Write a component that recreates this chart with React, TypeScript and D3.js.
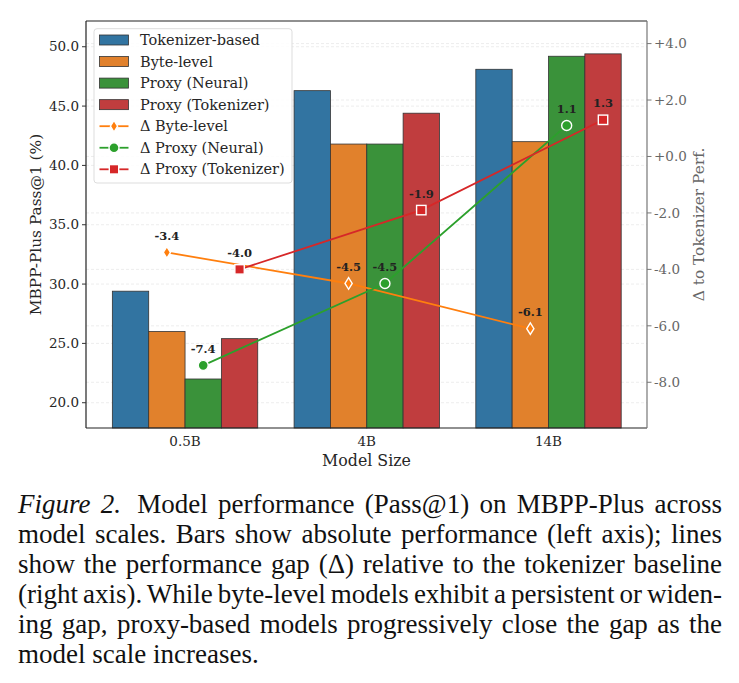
import React, { useEffect, useRef } from "react";
import * as d3 from "d3";

const categories = ["0.5B", "4B", "14B"];
const tokenizerBased = [29.4, 46.3, 48.1];
const byteLevel = [26.0, 41.8, 42.0];
const proxyNeural = [22.0, 41.8, 49.2];
const proxyTokenizer = [25.4, 44.4, 49.4];
const deltaByte = [-3.4, -4.5, -6.1];
const deltaNeural = [-7.4, -4.5, 1.1];
const deltaProxyTok = [-4.0, -1.9, 1.3];
const leftTicks = [20, 25, 30, 35, 40, 45, 50];
const rightTicks = [-8, -6, -4, -2, 0, 2, 4];
const barNames = ["Tokenizer-based", "Byte-level", "Proxy (Neural)", "Proxy (Tokenizer)"];
const lineNames = ["Δ Byte-level", "Δ Proxy (Neural)", "Δ Proxy (Tokenizer)"];
const captionLines = [
  "Model performance (Pass@1) on MBPP-Plus across",
  "model scales. Bars show absolute performance (left axis); lines",
  "show the performance gap (Δ) relative to the tokenizer baseline",
  "(right axis). While byte-level models exhibit a persistent or widen-",
  "ing gap, proxy-based models progressively close the gap as the",
  "model scale increases.",
];

const barColors = ["#3274a1", "#e1812c", "#3a923a", "#c03d3e"];
const lineColors = ["#ff7f0e", "#2ca02c", "#d62728"];
const markerTypes = ["d", "o", "s"];

const W = 739, H = 683;
const L = 86, R = 647, T = 21, B = 428;
const SERIF = "'DejaVu Serif', serif";

function Marker({ type, x, y, color }: { type: string; x: number; y: number; color: string }) {
  if (type === "d") {
    const h = 5.8, w = 3.6;
    return <path d={`M${x},${y - h}L${x + w},${y}L${x},${y + h}L${x - w},${y}Z`} fill={color} stroke="#fff" strokeWidth={1.4} />;
  }
  if (type === "o") return <circle cx={x} cy={y} r={5} fill={color} stroke="#fff" strokeWidth={1.4} />;
  const s = 4.7;
  return <rect x={x - s} y={y - s} width={2 * s} height={2 * s} fill={color} stroke="#fff" strokeWidth={1.4} />;
}

export default function App() {
  const capRefs = useRef<(SVGTextElement | null)[]>([]);
  useEffect(() => {
    document.body.style.margin = "0";
    const x0 = 18, x1 = 722;
    capRefs.current.forEach((el, i) => {
      if (!el || i === captionLines.length - 1) return;
      el.setAttribute("word-spacing", "0");
      const natural = el.getComputedTextLength();
      const txt = el.textContent || "";
      const spaces = (txt.match(/ /g) || []).length;
      const extra = (x1 - x0 - natural - (i === 0 ? 6 : 0)) / spaces;
      el.setAttribute("word-spacing", String(extra));
    });
  }, []);

  const x = d3.scaleLinear().domain([-0.545, 2.542]).range([L, R]);
  const yL = d3.scaleLinear().domain([17.87, 52.17]).range([B, T]);
  const yR = d3.scaleLinear().domain([-9.62, 4.8]).range([B, T]);
  const bw = 0.2;
  const series = [tokenizerBased, byteLevel, proxyNeural, proxyTokenizer];
  const deltas = [deltaByte, deltaNeural, deltaProxyTok];
  const off = (j: number) => (j - 1.5) * bw;

  const fmtR = (v: number) => (v >= 0 ? "+" : "") + v.toFixed(1);

  return (
    <svg width={W} height={H} style={{ display: "block", background: "#fff" }}>
      <rect width={W} height={H} fill="#fff" />
      {/* grid */}
      {leftTicks.map((t) => (
        <line key={"gl" + t} x1={L} x2={R} y1={yL(t)} y2={yL(t)} stroke="#e8e8e8" strokeWidth={0.8} strokeDasharray="3,2" />
      ))}
      {rightTicks.map((t) => (
        <line key={"gr" + t} x1={L} x2={R} y1={yR(t)} y2={yR(t)} stroke="#e8e8e8" strokeWidth={0.8} strokeDasharray="3,2" />
      ))}
      {/* bars */}
      {series.map((s, j) =>
        s.map((v, i) => (
          <rect
            key={`b${j}-${i}`}
            x={x(i + off(j) - bw / 2)}
            width={x(bw) - x(0)}
            y={yL(v)}
            height={B - yL(v)}
            fill={barColors[j]}
            stroke="#333"
            strokeWidth={0.8}
          />
        ))
      )}
      {/* lines */}
      {deltas.map((d, k) => {
        const line = d3
          .line<number>()
          .x((_, i) => x(i + off(k + 1)))
          .y((v) => yR(v));
        return <path key={"l" + k} d={line(d) || ""} fill="none" stroke={lineColors[k]} strokeWidth={1.8} />;
      })}
      {deltas.map((d, k) =>
        d.map((v, i) => (
          <g key={`m${k}-${i}`}>
            <Marker type={markerTypes[k]} x={x(i + off(k + 1))} y={yR(v)} color={lineColors[k]} />
            <text
              x={x(i + off(k + 1))}
              y={yR(v) - 12.5}
              textAnchor="middle"
              fontFamily={SERIF}
              fontWeight="bold"
              fontSize={11.5}
              fill="#222"
            >
              {v.toFixed(1)}
            </text>
          </g>
        ))
      )}
      {/* spines */}
      <line x1={L} x2={R} y1={T} y2={T} stroke="#222" strokeWidth={1.2} />
      <line x1={L} x2={R} y1={B} y2={B} stroke="#222" strokeWidth={1.2} />
      <line x1={L} x2={L} y1={T} y2={B} stroke="#222" strokeWidth={1.2} />
      <line x1={R} x2={R} y1={T} y2={B} stroke="#777" strokeWidth={1.2} />
      {/* left ticks */}
      {leftTicks.map((t) => (
        <g key={"lt" + t}>
          <line x1={L - 4} x2={L} y1={yL(t)} y2={yL(t)} stroke="#333" strokeWidth={1} />
          <text x={L - 7} y={yL(t)} dy="0.35em" textAnchor="end" fontFamily={SERIF} fontSize={13.5} fill="#262626">
            {t.toFixed(1)}
          </text>
        </g>
      ))}
      {/* right ticks */}
      {rightTicks.map((t) => (
        <g key={"rt" + t}>
          <line x1={R} x2={R + 4.5} y1={yR(t)} y2={yR(t)} stroke="#777" strokeWidth={1} />
          <text x={R + 7} y={yR(t)} dy="0.35em" textAnchor="start" fontFamily={SERIF} fontSize={13.5} fill="#666">
            {fmtR(t)}
          </text>
        </g>
      ))}
      {/* x ticks */}
      {categories.map((c, i) => (
        <text key={c} x={x(i)} y={446} textAnchor="middle" fontFamily={SERIF} fontSize={13.5} fill="#262626">
          {c}
        </text>
      ))}
      <text x={(L + R) / 2} y={465.5} textAnchor="middle" fontFamily={SERIF} fontSize={15.8} fill="#262626">
        Model Size
      </text>
      <text
        transform={`translate(41,${(T + B) / 2}) rotate(-90)`}
        textAnchor="middle"
        fontFamily={SERIF}
        fontSize={15.4}
        fill="#262626"
      >
        MBPP-Plus Pass@1 (%)
      </text>
      <text
        transform={`translate(704,${(T + B) / 2}) rotate(-90)`}
        textAnchor="middle"
        fontFamily={SERIF}
        fontSize={15.4}
        fill="#666"
      >
        Δ to Tokenizer Perf.
      </text>
      {/* legend */}
      <rect x={94} y={28.7} width={198} height={154.3} rx={3} fill="#fff" fillOpacity={0.85} stroke="#ddd" strokeWidth={1} />
      {barNames.map((n, j) => {
        const cy = 40 + j * 21.55;
        return (
          <g key={"lg" + j}>
            <rect x={99.5} y={cy - 5} width={29} height={10} fill={barColors[j]} stroke="#333" strokeWidth={0.8} />
            <text x={140} y={cy} dy="0.35em" fontFamily={SERIF} fontSize={14.5} fill="#262626">
              {n}
            </text>
          </g>
        );
      })}
      {lineNames.map((n, k) => {
        const cy = 40 + (k + 4) * 21.55;
        return (
          <g key={"ll" + k}>
            <line x1={99.5} x2={128.5} y1={cy} y2={cy} stroke={lineColors[k]} strokeWidth={1.8} />
            <Marker type={markerTypes[k]} x={114} y={cy} color={lineColors[k]} />
            <text x={140} y={cy} dy="0.35em" fontFamily={SERIF} fontSize={14.5} fill="#262626">
              {n}
            </text>
          </g>
        );
      })}
      {/* caption */}
      {captionLines.map((ln, i) => (
        <text
          key={"c" + i}
          ref={(el) => {
            capRefs.current[i] = el;
          }}
          x={18}
          y={512.5 + i * 30.1}
          fontFamily="'Liberation Serif', 'Times New Roman', serif"
          fontSize={27}
          fill="#111"
        >
          {i === 0 ? (
            <>
              <tspan fontStyle="italic">Figure 2.</tspan>
              <tspan dx={6}>{" " + ln}</tspan>
            </>
          ) : (
            ln
          )}
        </text>
      ))}
    </svg>
  );
}
